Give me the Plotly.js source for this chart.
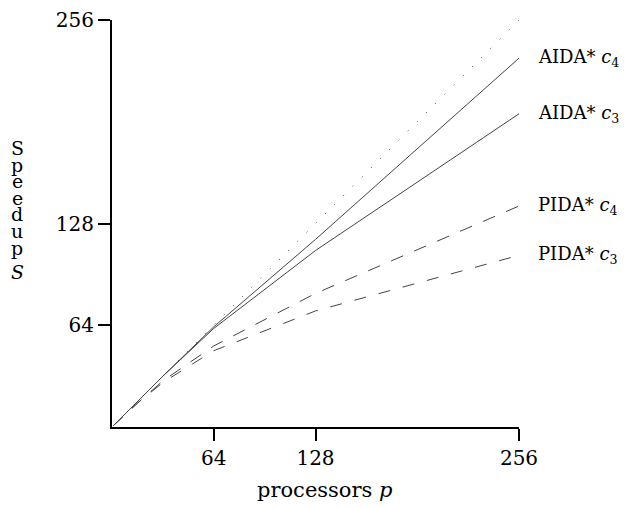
<!DOCTYPE html>
<html>
<head>
<meta charset="utf-8">
<script src="https://cdn.plot.ly/plotly-3.0.1.min.js"></script>
<style>html,body{margin:0;padding:0;background:#fff;}#chart{width:631px;height:508px;}</style>
</head>
<body>
<div id="chart"></div>
<script>
// processors p
const procs = [1, 16, 32, 64, 128, 256];
// ideal speedup
const ideal = [1, 16, 32, 64, 128, 256];
const aidaC4 = [1, 16, 32, 63, 118, 232];
const aidaC3 = [1, 16, 32, 62, 111, 197];
const pidaC4 = [1, 15, 29, 51, 84, 139];
const pidaC3 = [1, 15, 28, 48, 73, 108];
const tickVals = [64, 128, 256];
const tickText = ['64', '128', '256'];
const seriesLabels = ['AIDA* <i>c</i><sub>4</sub>', 'AIDA* <i>c</i><sub>3</sub>', 'PIDA* <i>c</i><sub>4</sub>', 'PIDA* <i>c</i><sub>3</sub>'];
const yTitleLetters = ['S', 'p', 'e', 'e', 'd', 'u', 'p'];

const serif = 'DejaVu Serif';
const lineColor = '#444';

const traces = [
  {x: procs, y: ideal, mode: 'lines', line: {color: lineColor, width: 1, dash: '1px,12px'}},
  {x: procs, y: aidaC4, mode: 'lines', line: {color: lineColor, width: 1}},
  {x: procs, y: aidaC3, mode: 'lines', line: {color: lineColor, width: 1}},
  {x: procs, y: pidaC4, mode: 'lines', line: {color: lineColor, width: 1, dash: '13px,12px'}},
  {x: procs, y: pidaC3, mode: 'lines', line: {color: lineColor, width: 1, dash: '12px,13px'}}
];

const series = [aidaC4, aidaC3, pidaC4, pidaC3];
const annotations = [];
series.forEach((s, i) => {
  annotations.push({
    text: seriesLabels[i], xref: 'paper', yref: 'y', x: 1.042, y: s[s.length - 1],
    xanchor: 'left', yanchor: 'middle', showarrow: false,
    font: {family: serif, size: 18, color: '#000'}
  });
});
// vertical y-axis title, letter by letter
yTitleLetters.forEach((ch, i) => {
  annotations.push({
    text: ch, xref: 'paper', yref: 'paper', x: -0.233, y: (427 - 148 - i * 16.6) / 407,
    xanchor: 'center', yanchor: 'middle', showarrow: false,
    font: {family: serif, size: 19, color: '#000'}
  });
});
annotations.push({
  text: '<i>S</i>', xref: 'paper', yref: 'paper', x: -0.233, y: (427 - 272) / 407,
  xanchor: 'center', yanchor: 'middle', showarrow: false,
  font: {family: serif, size: 19, color: '#000'}
});
annotations.push({
  text: 'processors <i>p</i>', xref: 'paper', yref: 'paper', x: 0.521, y: (427 - 490) / 407,
  xanchor: 'center', yanchor: 'middle', showarrow: false,
  font: {family: serif, size: 21, color: '#000'}
});

const axisCommon = {
  range: [0, 256], showgrid: false, zeroline: false, showline: true,
  linecolor: '#000', linewidth: 2, ticks: 'outside', ticklen: 12, tickwidth: 2, tickcolor: '#000',
  tickmode: 'array', tickvals: tickVals, ticktext: tickText,
  tickfont: {family: serif, size: 20, color: '#000'}, fixedrange: true
};

const layout = {
  width: 631, height: 508,
  margin: {l: 112, r: 112, t: 20, b: 81},
  paper_bgcolor: '#fff', plot_bgcolor: '#fff',
  font: {family: serif},
  showlegend: false,
  xaxis: Object.assign({}, axisCommon),
  yaxis: Object.assign({}, axisCommon),
  annotations: annotations
};

Plotly.newPlot('chart', traces, layout, {displayModeBar: false, staticPlot: true});
</script>
</body>
</html>
